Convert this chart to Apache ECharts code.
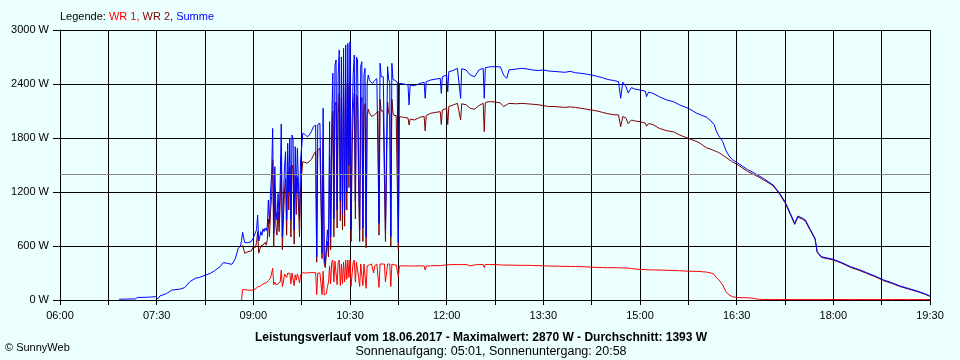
<!DOCTYPE html>
<html><head><meta charset="utf-8">
<script src="https://cdn.jsdelivr.net/npm/echarts/dist/echarts.min.js"></script>
<style>html,body{margin:0;padding:0;background:#ebffff;}#c{width:960px;height:360px;}</style>
</head><body><div id="c"></div>
<script>
// Time of each sample, minutes after midnight (06:00 = 360, 19:30 = 1170)
const tMin = [
  415,420,430,432,440,445,449,451,453,459,464,472,476,481,486,490,495,500,504,509,512,516,520,523,526,528,529,
  530,532,535,538,
  540,541,542,543,544,545,546,547,548,549,
  550,551,552,553,554,555,556,557,558,559,
  560,561,562,563,564,565,566,567,568,569,
  570,571,572,573,574,575,576,577,578,579,
  580,581,582,583,584,585,
  586,588,590,592,594,596,598,
  599,600,601,602,603,604,605,606,607,608,
  609,610,611,612,613,614,615,616,617,618,
  619,620,621,622,623,624,625,626,627,628,
  629,630,631,632,633,634,635,636,637,638,
  639,640,641,642,643,644,645,646,647,648,
  649,650,651,652,653,654,655,656,657,658,
  659,660,661,662,663,664,665,666,667,668,
  669,670,671,672,673,674,675,676,
  680,684,685,686,690,695,699,700,701,705,
  710,714,715,716,720,721,722,726,730,733,
  734,738,742,746,750,754,755,756,760,765,
  770,773,776,778,785,790,795,800,805,810,
  815,820,825,830,835,840,845,850,855,860,
  865,870,875,880,882,884,887,889,892,895,
  900,905,906,908,912,918,925,931,937,945,
  953,956,962,966,969,971,973,977,980,983,
  986,990,995,1000,1005,1010,1015,1020,1024,1030,
  1035,1040,1044,1047,1051,1054,1058,1063,1065,1069,
  1075,1080,1088,1096,1104,1111,1119,1127,1135,1142,
  1150,1158,1165,1170
];
// WR 1 (W)
const wr1 = [
  null,null,null,null,null,null,null,null,null,null,null,null,null,null,null,null,null,null,null,null,null,null,null,null,null,null,0,
  115,115,110,108,
  112,118,122,130,148,140,150,165,170,178,
  185,175,190,185,215,230,244,250,352,170,
  200,170,165,180,170,200,333,150,200,290,
  296,250,300,290,296,180,300,296,160,280,
  220,290,250,190,280,260,
  304,300,300,304,304,304,304,
  60,300,304,300,290,60,320,56,40,70,
  150,200,380,180,420,444,200,430,440,170,
  420,444,160,400,180,420,200,444,230,444,
  250,450,150,300,420,444,200,420,420,250,
  150,400,410,160,400,410,130,380,400,390,
  370,400,390,300,380,400,400,390,140,400,
  390,400,390,400,200,220,400,380,400,150,
  400,390,390,400,390,380,260,378,
  380,378,378,378,378,380,378,333,378,380,
  382,380,380,385,390,390,392,394,394,394,
  394,394,380,390,394,394,360,394,394,394,
  390,388,388,388,386,385,385,384,382,380,
  378,376,375,374,373,372,370,368,365,362,
  360,359,359,358,355,356,355,355,350,345,
  340,338,336,335,334,333,330,328,325,320,
  318,316,310,300,285,250,230,167,93,56,
  37,28,26,25,20,8,6,5,5,5,
  5,5,5,5,5,5,5,5,5,5,
  5,5,5,5,5,5,5,5,5,5,
  5,5,5,5
];
// WR 2 (W)
const wr2 = [
  null,null,null,null,null,null,null,null,null,null,null,null,null,null,null,null,null,null,null,null,null,null,null,null,null,null,null,
  611,519,537,545,
  590,600,585,640,760,520,560,600,580,610,
  600,640,610,670,900,700,980,1150,1560,590,
  1220,820,720,980,760,1080,1600,560,900,1200,
  1350,720,1420,1000,1480,700,1500,1450,620,1380,
  950,1370,1050,700,1250,1400,
  1537,1530,1520,1537,1560,1611,1650,
  420,1660,1680,1690,1685,460,1800,400,360,520,
  650,480,1600,560,1560,2100,700,2150,2200,800,
  2050,2300,880,2250,780,2350,820,2380,1000,2400,
  1250,2420,650,1700,2100,2300,900,2280,2250,1250,
  650,2200,2250,650,2100,2180,580,2040,2120,2080,
  2060,2040,2040,2050,2060,2070,2080,2100,720,2230,
  2100,2090,2100,2120,650,1444,2200,2080,2050,600,
  2230,2080,2050,2060,2050,2040,560,2037,
  2030,2022,1944,2010,2000,2030,2040,1880,2050,2074,
  2085,2093,1950,2111,2130,1950,2150,2167,2185,2000,
  2180,2170,2130,2120,2160,2185,1870,2195,2204,2200,
  2190,2150,2170,2185,2180,2185,2180,2175,2170,2160,
  2150,2150,2145,2140,2145,2140,2130,2120,2111,2100,
  2085,2070,2060,2056,1926,2040,2020,1960,2000,1990,
  1981,1965,1930,1960,1950,1907,1880,1870,1833,1796,
  1760,1741,1690,1675,1660,1650,1640,1611,1585,1560,
  1535,1510,1470,1430,1400,1370,1335,1300,1268,1175,
  1080,950,840,920,900,875,785,675,528,472,
  458,444,408,362,330,296,258,214,182,150,
  122,94,66,40
];
// Summe (W)
const summe = [
  8,10,12,28,30,33,38,12,45,70,110,122,137,204,241,252,274,296,326,370,415,407,396,452,574,600,660,
  752,637,637,648,
  690,720,700,780,944,655,700,760,720,790,
  760,800,770,820,1111,850,1200,1389,1907,744,
  1481,1000,889,1185,900,1300,1955,704,1100,1481,
  1648,889,1741,1200,1796,889,1833,1778,778,1704,
  1185,1685,1300,889,1556,1700,
  1852,1840,1815,1830,1870,1926,1944,
  480,1950,1963,1963,1955,520,2130,444,407,600,
  780,600,1981,700,1981,2519,900,2600,2667,1000,
  2500,2778,1100,2700,950,2796,1000,2833,1200,2852,
  1500,2870,778,2000,2519,2722,1100,2700,2667,1500,
  778,2600,2648,800,2500,2574,704,2400,2500,2450,
  2426,2407,2407,2420,2440,2450,2460,2481,852,2630,
  2480,2460,2480,2500,778,1650,2593,2450,2420,704,
  2630,2450,2430,2440,2430,2420,640,2407,
  2400,2389,2167,2389,2380,2407,2420,2241,2426,2444,
  2455,2463,2296,2481,2500,2315,2537,2550,2574,2241,
  2570,2556,2500,2481,2556,2574,2241,2581,2590,2593,
  2590,2500,2463,2556,2567,2574,2567,2556,2550,2556,
  2544,2540,2535,2530,2540,2525,2519,2510,2500,2485,
  2470,2450,2440,2426,2241,2420,2370,2300,2360,2345,
  2333,2320,2260,2310,2296,2259,2222,2204,2167,2130,
  2074,2060,2030,1990,1950,1880,1830,1760,1660,1600,
  1560,1530,1490,1450,1420,1385,1350,1310,1278,1185,
  1093,963,852,933,910,889,796,685,537,481,
  465,452,415,370,338,304,265,222,190,156,
  128,100,70,44
];
const seriesNames = ['WR 1', 'WR 2', 'Summe'];
const seriesColors = ['#ff0000', '#800000', '#0000ff'];
const average = 1393;
const maxValue = 2870;
const dateText = '18.06.2017';
const sunrise = '05:01', sunset = '20:58';
const xMin = 360, xMax = 1170, xStep = 45, xLabelStep = 90;
const yMin = 0, yMax = 3000, yStep = 600;

const font = '"Liberation Sans", Arial, sans-serif';
function hhmm(v){ const h = Math.floor(v/60), m = v%60; return (h<10?'0':'')+h+':'+(m<10?'0':'')+m; }
function pairs(vals){ return tMin.map((t,i)=>[t, vals[i]]).filter(p=>p[1]!==null); }

const chart = echarts.init(document.getElementById('c'));
const allVals = [wr1, wr2, summe];
chart.setOption({
  backgroundColor: '#ebffff',
  animation: false,
  textStyle: {fontFamily: font},
  grid: {left: 60, right: 30, top: 30, bottom: 60},
  xAxis: {
    type: 'value', min: xMin, max: xMax, interval: xStep,
    axisLine: {show: true, onZero: false, lineStyle: {color: '#000', width: 1}},
    axisTick: {show: true, length: 5, lineStyle: {color: '#000', width: 1}},
    axisLabel: {color: '#000', fontSize: 11, fontFamily: font, margin: 10, hideOverlap: false,
      showMinLabel: true, showMaxLabel: true,
      formatter: v => ((v - xMin) % xLabelStep === 0) ? hhmm(v) : ''},
    splitLine: {show: true, lineStyle: {color: '#000', width: 1}}
  },
  yAxis: {
    type: 'value', min: yMin, max: yMax, interval: yStep,
    axisLine: {show: true, lineStyle: {color: '#000', width: 1}},
    axisTick: {show: true, length: 7, lineStyle: {color: '#000', width: 1}},
    axisLabel: {color: '#000', fontSize: 11, fontFamily: font, margin: 11, formatter: v => v + ' W'},
    splitLine: {show: true, lineStyle: {color: '#000', width: 1}}
  },
  series: seriesNames.map((n, k) => ({
    name: n, type: 'line', data: pairs(allVals[k]), showSymbol: false, symbol: 'none',
    lineStyle: {color: seriesColors[k], width: 1}, itemStyle: {color: seriesColors[k]},
    z: 2 + k, emphasis: {disabled: true},
    markLine: k === 2 ? {silent: true, symbol: 'none', label: {show: false},
      lineStyle: {color: '#888888', width: 1, type: 'solid'}, data: [{yAxis: average}]} : undefined
  })),
  graphic: [
    {type: 'text', x: 60, y: 17, style: {
      text: '{k|Legende: }{a|' + seriesNames[0] + ', }{b|' + seriesNames[1] + ', }{c|' + seriesNames[2] + '}',
      verticalAlign: 'middle', font: '11px ' + font,
      rich: {k: {fill: '#000', font: '11px ' + font}, a: {fill: seriesColors[0], font: '11px ' + font},
             b: {fill: seriesColors[1], font: '11px ' + font}, c: {fill: seriesColors[2], font: '11px ' + font}}}},
    {type: 'text', x: 481, y: 338, style: {
      text: 'Leistungsverlauf vom ' + dateText + ' - Maximalwert: ' + maxValue + ' W - Durchschnitt: ' + average + ' W',
      align: 'center', verticalAlign: 'middle', fill: '#000', font: 'bold 12px ' + font}},
    {type: 'text', x: 491, y: 352, style: {
      text: 'Sonnenaufgang: ' + sunrise + ', Sonnenuntergang: ' + sunset,
      align: 'center', verticalAlign: 'middle', fill: '#000', font: '12.5px ' + font}},
    {type: 'text', x: 5, y: 348, style: {
      text: '\u00A9 SunnyWeb', align: 'left', verticalAlign: 'middle', fill: '#000', font: '11px ' + font}}
  ]
});
</script>
</body></html>
